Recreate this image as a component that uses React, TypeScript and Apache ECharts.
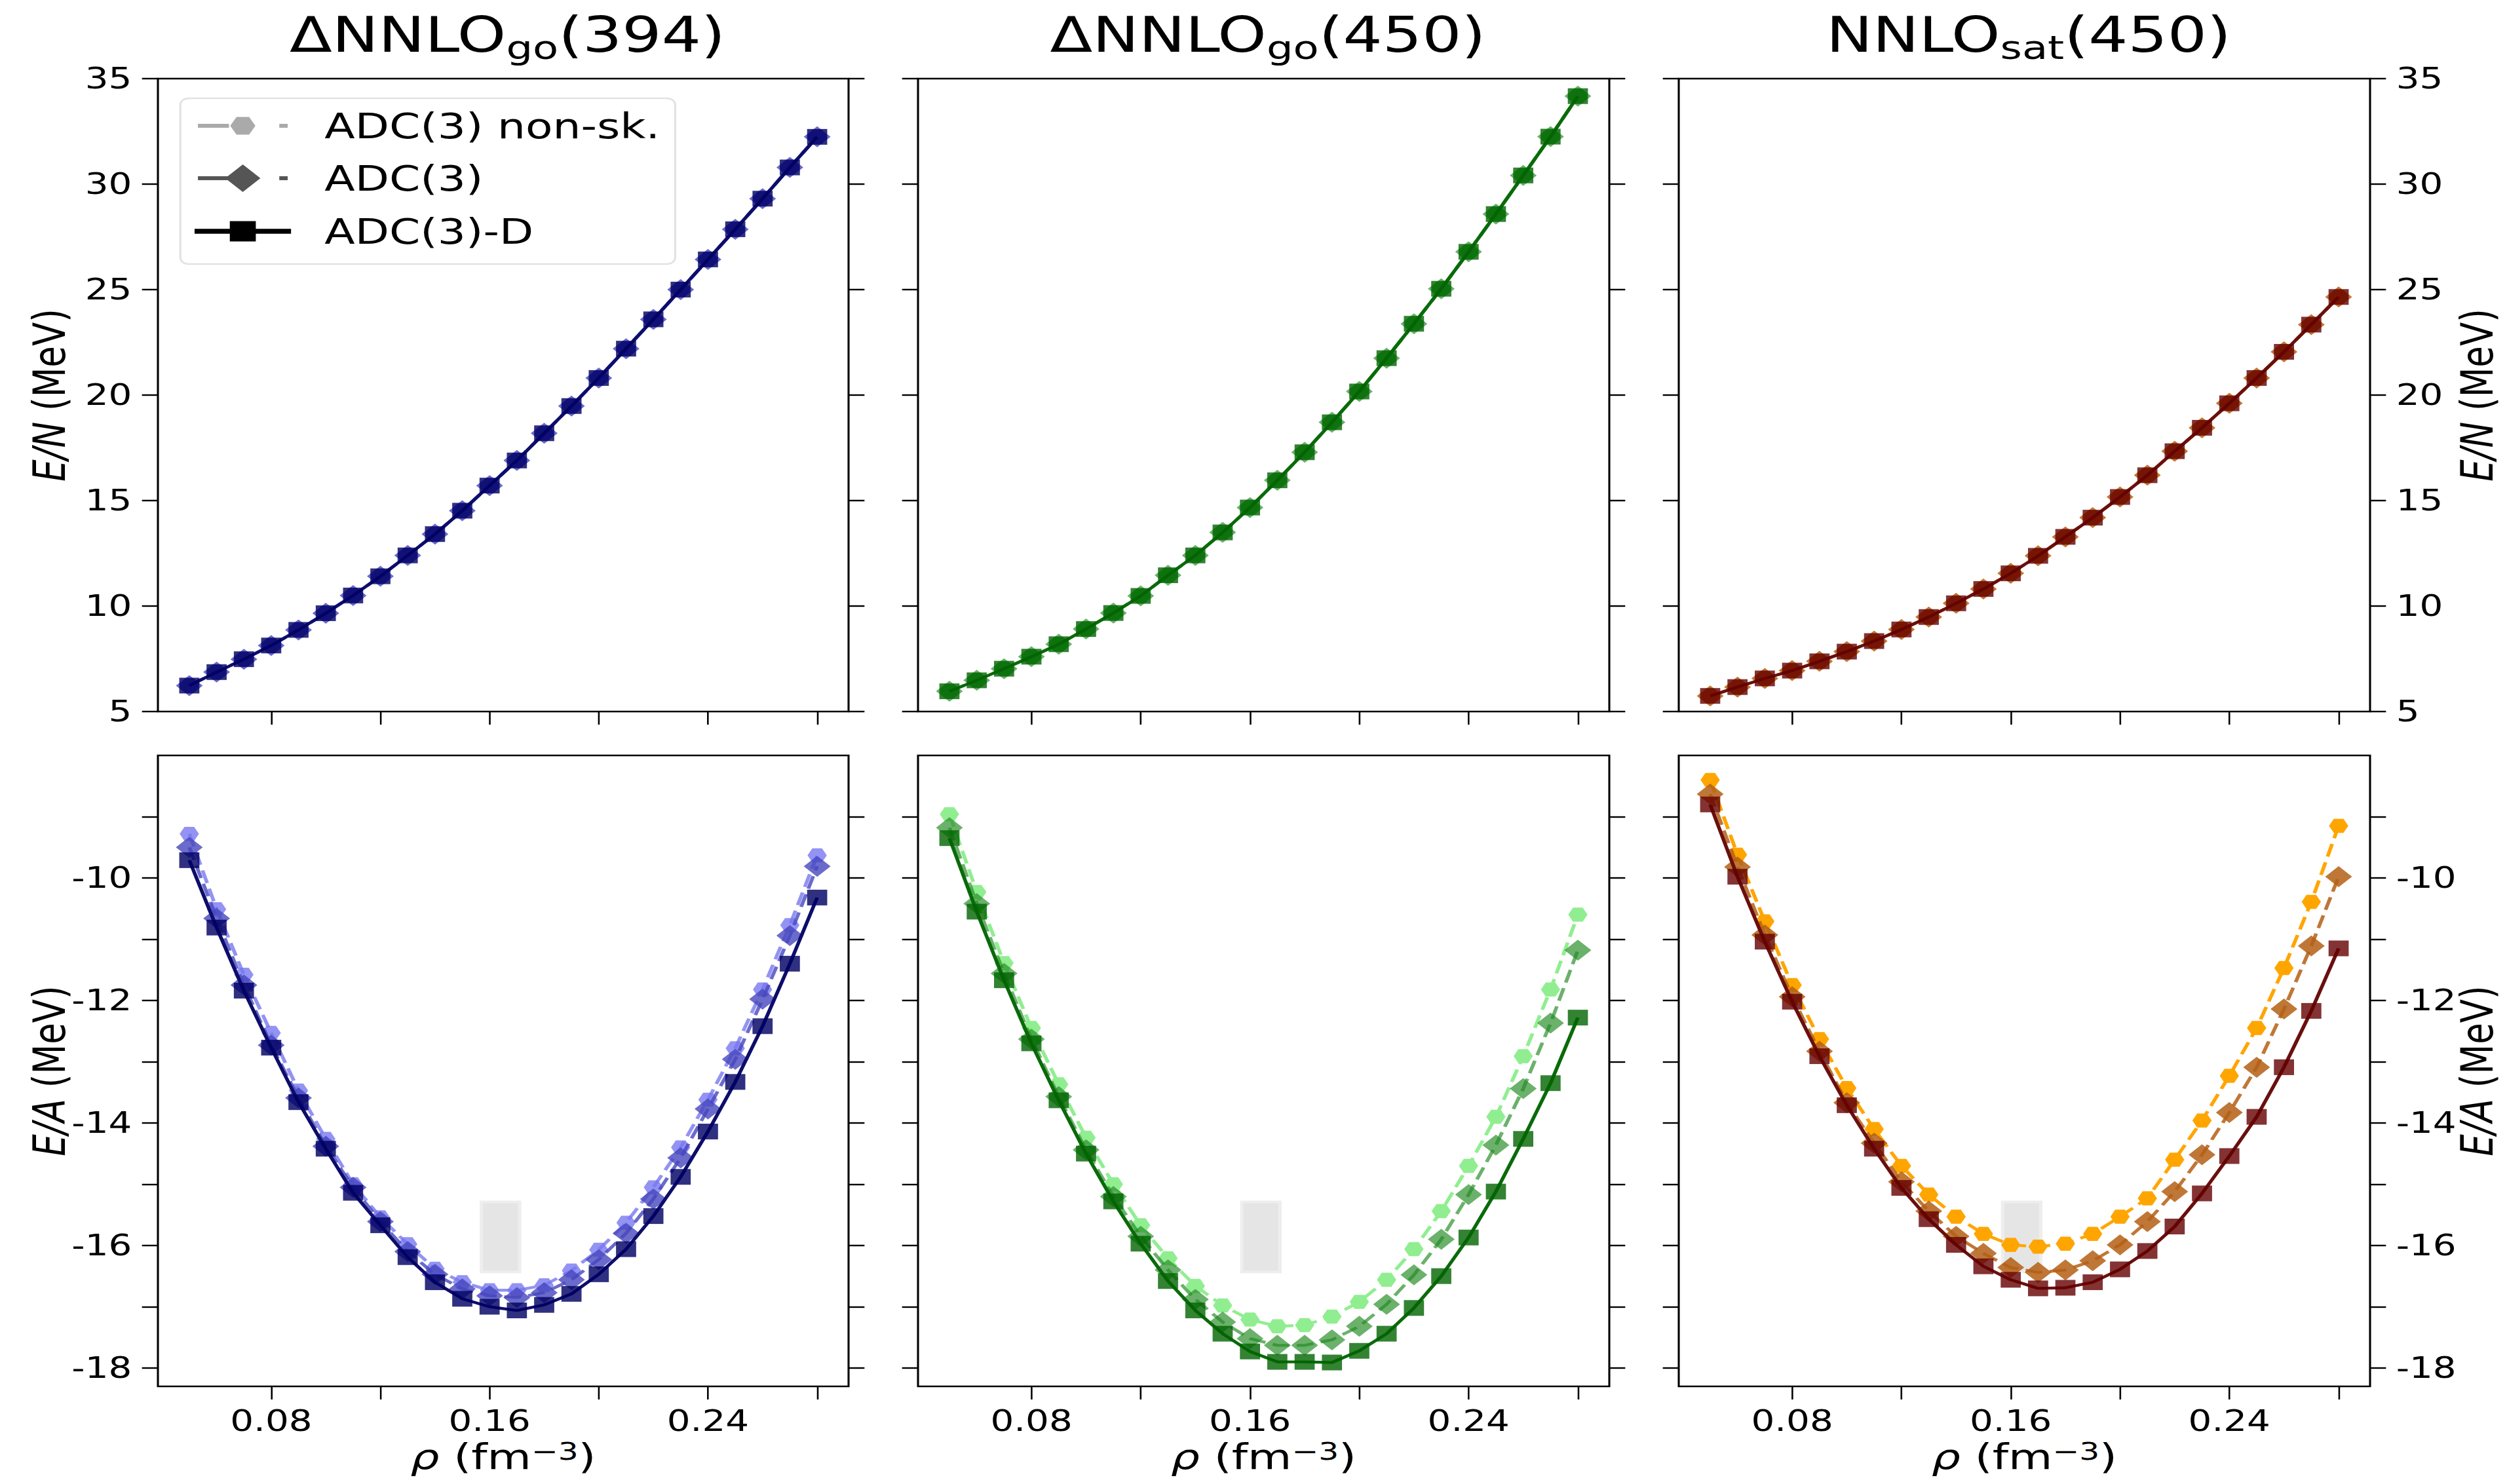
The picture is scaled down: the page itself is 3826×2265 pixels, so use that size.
import React, { useEffect, useRef } from 'react';
import * as echarts from 'echarts';

// ---------------- data ----------------
const RHO = [0.05, 0.06, 0.07, 0.08, 0.09, 0.10, 0.11, 0.12, 0.13, 0.14, 0.15, 0.16, 0.17, 0.18, 0.19, 0.20, 0.21, 0.22, 0.23, 0.24, 0.25, 0.26, 0.27, 0.28];

// Pure neutron matter E/N (MeV) – the three ADC variants coincide on this scale
const EN_394 = [6.23, 6.87, 7.48, 8.13, 8.87, 9.66, 10.50, 11.41, 12.40, 13.41, 14.52, 15.71, 16.90, 18.19, 19.48, 20.81, 22.20, 23.59, 25.00, 26.43, 27.86, 29.31, 30.79, 32.24];
const EN_450 = [5.96, 6.48, 7.03, 7.60, 8.19, 8.91, 9.67, 10.48, 11.46, 12.40, 13.49, 14.67, 15.96, 17.29, 18.71, 20.17, 21.75, 23.38, 25.04, 26.79, 28.58, 30.41, 32.25, 34.17];
const EN_SAT = [5.74, 6.16, 6.57, 6.94, 7.38, 7.84, 8.34, 8.89, 9.48, 10.13, 10.81, 11.55, 12.38, 13.28, 14.19, 15.17, 16.20, 17.34, 18.45, 19.61, 20.81, 22.05, 23.34, 24.65];

// Symmetric nuclear matter E/A (MeV)
const EA_394_NONSK = [-9.28, -10.51, -11.58, -12.53, -13.47, -14.26, -15.00, -15.54, -15.98, -16.38, -16.60, -16.73, -16.73, -16.65, -16.41, -16.07, -15.63, -15.05, -14.40, -13.62, -12.78, -11.82, -10.77, -9.63];
const EA_394_ADC3 = [-9.50, -10.66, -11.75, -12.73, -13.59, -14.38, -15.05, -15.61, -16.10, -16.47, -16.71, -16.82, -16.85, -16.77, -16.56, -16.23, -15.80, -15.24, -14.57, -13.77, -12.96, -11.98, -10.94, -9.81];
const EA_394_ADC3D = [-9.71, -10.81, -11.84, -12.77, -13.66, -14.42, -15.14, -15.67, -16.19, -16.60, -16.87, -17.00, -17.06, -16.97, -16.79, -16.47, -16.06, -15.52, -14.88, -14.14, -13.33, -12.42, -11.40, -10.32];

const EA_450_NONSK = [-8.96, -10.23, -11.39, -12.45, -13.37, -14.24, -15.00, -15.67, -16.21, -16.66, -16.98, -17.21, -17.32, -17.30, -17.16, -16.92, -16.56, -16.06, -15.44, -14.70, -13.90, -12.91, -11.82, -10.60];
const EA_450_ADC3 = [-9.18, -10.42, -11.56, -12.63, -13.57, -14.44, -15.20, -15.85, -16.40, -16.88, -17.25, -17.52, -17.63, -17.63, -17.54, -17.32, -16.96, -16.48, -15.90, -15.17, -14.36, -13.44, -12.37, -11.18];
const EA_450_ADC3D = [-9.35, -10.55, -11.67, -12.70, -13.63, -14.50, -15.28, -15.97, -16.58, -17.06, -17.44, -17.73, -17.90, -17.90, -17.91, -17.72, -17.44, -17.02, -16.50, -15.87, -15.12, -14.26, -13.35, -12.28];

const EA_SAT_NONSK = [-8.40, -9.62, -10.71, -11.75, -12.63, -13.43, -14.10, -14.70, -15.17, -15.53, -15.81, -15.99, -16.02, -15.97, -15.81, -15.53, -15.23, -14.60, -13.96, -13.23, -12.45, -11.47, -10.39, -9.15];
const EA_SAT_ADC3 = [-8.63, -9.82, -10.93, -11.94, -12.83, -13.67, -14.33, -14.96, -15.44, -15.85, -16.13, -16.36, -16.44, -16.40, -16.25, -15.99, -15.61, -15.12, -14.52, -13.83, -13.09, -12.14, -11.11, -9.98];
const EA_SAT_ADC3D = [-8.80, -9.98, -11.04, -12.02, -12.91, -13.71, -14.42, -15.06, -15.57, -15.99, -16.34, -16.56, -16.70, -16.69, -16.60, -16.39, -16.09, -15.69, -15.15, -14.54, -13.90, -13.09, -12.17, -11.15];

// saturation box
const SAT_RHO = [0.157, 0.171];
const SAT_EA = [-16.43, -15.29];

const PANEL_TITLES = ['{m|ΔNNLO}{s|go}{m|(394)}', '{m|ΔNNLO}{s|go}{m|(450)}', '{m|NNLO}{s|sat}{m|(450)}'];
const SERIES_NAMES = ['ADC(3) non-sk.', 'ADC(3)', 'ADC(3)-D'];

const X_RANGE = [0.0385, 0.2915];
const X_TICKS = [0.08, 0.12, 0.16, 0.2, 0.24, 0.28];
const X_LABELS = [0.08, 0.16, 0.24];
const EN_RANGE = [5, 35];
const EN_TICKS = [5, 10, 15, 20, 25, 30, 35];
const EA_RANGE = [-18.3, -8.0];
const EA_TICKS = [-18, -17, -16, -15, -14, -13, -12, -11, -10, -9];
const EA_LABELS = [-18, -16, -14, -12, -10];

const TOP_DATA = [EN_394, EN_450, EN_SAT];
const BOTTOM_DATA = [
  [EA_394_NONSK, EA_394_ADC3, EA_394_ADC3D],
  [EA_450_NONSK, EA_450_ADC3, EA_450_ADC3D],
  [EA_SAT_NONSK, EA_SAT_ADC3, EA_SAT_ADC3D],
];

// ---------------- layout / style ----------------
const SX = 1.28; // the reference figure is stretched horizontally
const FULL_W = 3826;
const FULL_H = 2265;
const CW = FULL_W / SX;
const FONT = 'DejaVu Sans';
const COLS = [[241, 1295], [1401, 2456], [2562, 3617]];
const ROWS = [[120, 1086], [1153, 2116]];

const PALETTE = [
  { ns: 'rgba(120,120,240,0.8)', a3: 'rgba(70,70,190,0.8)', d: 'rgba(0,0,100,0.81)', dLine: '#0d0d6b' },
  { ns: '#90ee90', a3: 'rgba(34,139,34,0.67)', d: 'rgba(0,100,0,0.8)', dLine: '#0a6a0a' },
  { ns: '#ffa500', a3: 'rgba(180,95,20,0.85)', d: 'rgba(100,0,0,0.8)', dLine: '#6a0f0f' },
];

const HEX = 'path://M0,5 L2.5,0.67 L7.5,0.67 L10,5 L7.5,9.33 L2.5,9.33 Z';

function buildOption() {
  const grid: any[] = [];
  const xAxis: any[] = [];
  const yAxis: any[] = [];
  const series: any[] = [];

  for (let r = 0; r < 2; r++) {
    for (let c = 0; c < 3; c++) {
      const idx = r * 3 + c;
      const top = r === 0;
      grid.push({
        left: COLS[c][0] / SX,
        width: (COLS[c][1] - COLS[c][0]) / SX,
        top: ROWS[r][0],
        height: ROWS[r][1] - ROWS[r][0],
        show: true,
        borderColor: '#000',
        borderWidth: 2.4,
        backgroundColor: 'transparent',
        containLabel: false,
        outerBoundsMode: 'none',
      });
      xAxis.push({
        type: 'value',
        gridIndex: idx,
        min: X_RANGE[0],
        max: X_RANGE[1],
        axisLine: { show: false },
        splitLine: { show: false },
        axisTick: { show: true, inside: false, length: 20, lineStyle: { color: '#000', width: 2 }, customValues: X_TICKS },
        axisLabel: {
          show: !top,
          customValues: X_LABELS,
          formatter: (v: number) => v.toFixed(2),
          fontSize: 44,
          fontFamily: FONT,
          color: '#000',
          margin: 31,
        },
        name: top ? '' : '{i|ρ} (fm{sup|−3})',
        nameLocation: 'middle',
        nameGap: 80,
        nameMoveOverlap: false,
        nameTextStyle: {
          fontSize: 54,
          fontFamily: FONT,
          color: '#000',
          rich: {
            i: { fontStyle: 'italic', fontSize: 54, fontFamily: FONT, color: '#000' },
            sup: { fontSize: 38, fontFamily: FONT, color: '#000', verticalAlign: 'top' },
          },
        },
      });
      for (const side of ['left', 'right']) {
        const showLabel = (side === 'left' && c === 0) || (side === 'right' && c === 2);
        yAxis.push({
          type: 'value',
          gridIndex: idx,
          position: side,
          min: top ? EN_RANGE[0] : EA_RANGE[0],
          max: top ? EN_RANGE[1] : EA_RANGE[1],
          axisLine: { show: false },
          splitLine: { show: false },
          axisTick: { show: true, inside: false, length: 19, lineStyle: { color: '#000', width: 2.4 }, customValues: top ? EN_TICKS : EA_TICKS },
          axisLabel: {
            show: showLabel,
            customValues: top ? EN_TICKS : EA_LABELS,
            formatter: (v: number) => String(v),
            fontSize: 44,
            fontFamily: FONT,
            color: '#000',
            margin: 31,
          },
          name: showLabel ? (top ? '{i|E/N} (MeV)' : '{i|E/A} (MeV)') : '',
          nameLocation: 'middle',
          nameRotate: 90,
          nameGap: side === 'left' ? 103 : 101,
          nameMoveOverlap: false,
          nameTextStyle: {
            fontSize: 53,
            fontFamily: FONT,
            color: '#000',
            rich: { i: { fontStyle: 'italic', fontSize: 53, fontFamily: FONT, color: '#000' } },
          },
        });
      }

      const pal = PALETTE[c];
      const arrays = top ? [TOP_DATA[c], TOP_DATA[c], TOP_DATA[c]] : BOTTOM_DATA[c];
      const specs = [
        { symbol: HEX, size: [23, 21.5], color: pal.ns, line: pal.ns, type: [20, 9] },
        { symbol: 'diamond', size: 32, color: pal.a3, line: pal.a3, type: [20, 9] },
        { symbol: 'rect', size: 24, color: pal.d, line: pal.dLine, type: 'solid' },
      ];
      specs.forEach((sp, k) => {
        const s: any = {
          type: 'line',
          name: SERIES_NAMES[k],
          xAxisIndex: idx,
          yAxisIndex: idx * 2,
          data: RHO.map((x, i) => [x, arrays[k][i]]),
          symbol: sp.symbol,
          symbolSize: sp.size,
          showSymbol: true,
          silent: true,
          itemStyle: { color: sp.color, borderWidth: 0 },
          lineStyle: { color: sp.line, width: 4.4, type: sp.type },
          emphasis: { disabled: true },
          z: 2 + k,
        };
        if (!top && k === 0) {
          s.markArea = {
            silent: true,
            label: { show: false },
            itemStyle: { color: '#e5e5e5', borderColor: '#eeeeee', borderWidth: 4 },
            data: [[{ coord: [SAT_RHO[0], SAT_EA[1]] }, { coord: [SAT_RHO[1], SAT_EA[0]] }]],
          };
        }
        series.push(s);
      });
    }
  }

  const title = PANEL_TITLES.map((t, c) => ({
    text: t,
    left: (COLS[c][0] + COLS[c][1]) / 2 / SX,
    top: 11,
    textAlign: 'center',
    textStyle: {
      fontWeight: 'normal',
      rich: {
        m: { fontSize: 74, fontFamily: FONT, fontWeight: 'normal', color: '#000', verticalAlign: 'bottom', padding: [0, 0, 8, 0] },
        s: { fontSize: 50, fontFamily: FONT, fontWeight: 'normal', color: '#000', verticalAlign: 'bottom' },
      },
    },
  }));

  // legend (generic grey handles, as in the reference)
  const L = { x: 215, y: 150, w: 590, h: 253, rows: [192, 272, 353], mx: 289.5, textX: 387 };
  const g: any[] = [
    { type: 'rect', shape: { x: L.x, y: L.y, width: L.w, height: L.h, r: 10 }, style: { fill: 'rgba(255,255,255,0.85)', stroke: '#e2e2e2', lineWidth: 2.5 }, z: 100 },
  ];
  const legColors = ['#aaaaaa', '#555555', '#000000'];
  L.rows.forEach((y, k) => {
    const col = legColors[k];
    if (k < 2) {
      g.push({ type: 'line', shape: { x1: 236, y1: y, x2: 273, y2: y }, style: { stroke: col, lineWidth: 6 }, z: 101 });
      g.push({ type: 'line', shape: { x1: 333, y1: y, x2: 343, y2: y }, style: { stroke: col, lineWidth: 6 }, z: 101 });
    } else {
      g.push({ type: 'line', shape: { x1: 232, y1: y, x2: 347, y2: y }, style: { stroke: col, lineWidth: 7.5 }, z: 101 });
    }
    let pts: number[][];
    if (k === 0) {
      const w = 15, h = 13.5;
      pts = [[L.mx - w, y], [L.mx - w / 2, y - h], [L.mx + w / 2, y - h], [L.mx + w, y], [L.mx + w / 2, y + h], [L.mx - w / 2, y + h]];
    } else if (k === 1) {
      const w = 21, h = 21;
      pts = [[L.mx - w, y], [L.mx, y - h], [L.mx + w, y], [L.mx, y + h]];
    } else {
      const a = 15.5;
      pts = [[L.mx - a, y - a], [L.mx + a, y - a], [L.mx + a, y + a], [L.mx - a, y + a]];
    }
    g.push({ type: 'polygon', shape: { points: pts }, style: { fill: col }, z: 102 });
    g.push({
      type: 'text',
      x: L.textX,
      y,
      style: { text: SERIES_NAMES[k], fontSize: 53, fontFamily: FONT, fill: '#000', align: 'left', verticalAlign: 'middle' },
      z: 103,
    });
  });

  return {
    animation: false,
    backgroundColor: '#ffffff',
    title,
    grid,
    xAxis,
    yAxis,
    series,
    graphic: { elements: g },
  };
}

export default function App() {
  const ref = useRef<HTMLDivElement>(null);
  useEffect(() => {
    const chart = echarts.init(ref.current as HTMLDivElement, null, { renderer: 'svg' });
    chart.setOption(buildOption() as any);
    return () => chart.dispose();
  }, []);
  return (
    <div
      ref={ref}
      style={{
        position: 'fixed',
        left: 0,
        top: 0,
        width: CW,
        height: FULL_H,
        transform: `scaleX(${SX})`,
        transformOrigin: '0 0',
        background: '#fff',
      }}
    />
  );
}
